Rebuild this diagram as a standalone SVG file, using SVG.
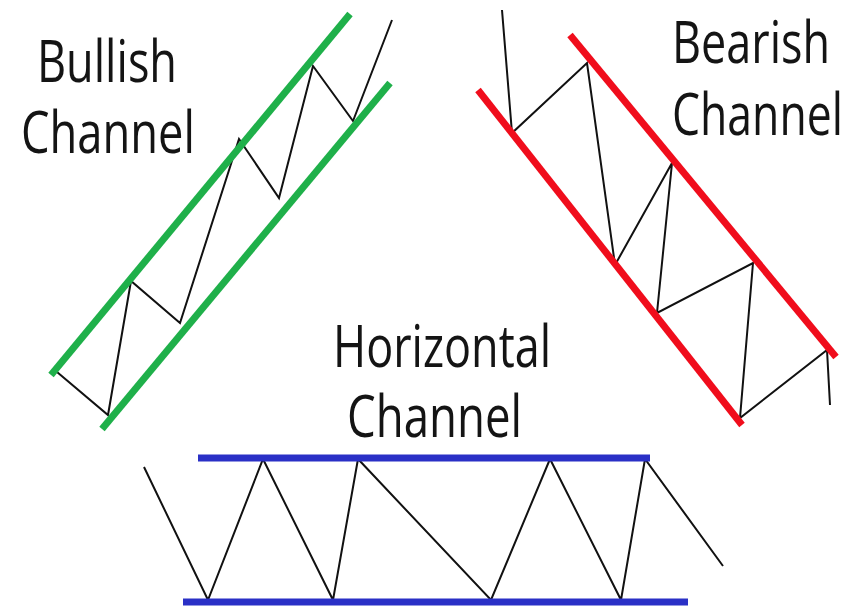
<svg xmlns="http://www.w3.org/2000/svg" width="849" height="606" viewBox="0 0 849 606">
<style>
.lbl{font-family:"Open Sans","Noto Sans","Liberation Sans",sans-serif;font-size:58px;fill:#141414;lengthAdjust:spacingAndGlyphs}
.zig{fill:none;stroke:#111;stroke-width:2;stroke-linejoin:miter}
.green{stroke:#1fb04a;stroke-width:7;stroke-linecap:butt}
.red{stroke:#f00d1c;stroke-width:7}
.blue{stroke:#2a30c6;stroke-width:7}
</style>
<rect width="849" height="606" fill="#fff"/>
<g id="bullish">
<polyline class="zig" points="57,372 108,415 131,281 180,323 239,139 279,198 313,66 353,121 392,20"/>
<line class="green" x1="51" y1="375" x2="350" y2="14"/>
<line class="green" x1="102" y1="429" x2="390" y2="83"/>
<text class="lbl" x="37" y="82" textLength="140" lengthAdjust="spacingAndGlyphs">Bullish</text>
<text class="lbl" x="21" y="153" textLength="174" lengthAdjust="spacingAndGlyphs">Channel</text>
</g>
<g id="bearish">
<polyline class="zig" points="502,10 512,133 587,63 615,265 672,163 657,313 753,263 740,418 827,350 830,405"/>
<line class="red" x1="570" y1="35" x2="836" y2="357"/>
<line class="red" x1="478" y1="90" x2="742" y2="425"/>
<text class="lbl" x="672" y="63" textLength="158" lengthAdjust="spacingAndGlyphs">Bearish</text>
<text class="lbl" x="672" y="135" textLength="171" lengthAdjust="spacingAndGlyphs">Channel</text>
</g>
<g id="horizontal">
<polyline class="zig" points="144,467 208,600 263,459 333,600 358,459 491,600 550,459 621,600 645,459 723,566"/>
<line class="blue" x1="198" y1="458" x2="650" y2="458"/>
<line class="blue" x1="183" y1="602" x2="688" y2="602"/>
<text class="lbl" x="333" y="367" textLength="218" lengthAdjust="spacingAndGlyphs">Horizontal</text>
<text class="lbl" x="347" y="437" textLength="175" lengthAdjust="spacingAndGlyphs">Channel</text>
</g>
</svg>
